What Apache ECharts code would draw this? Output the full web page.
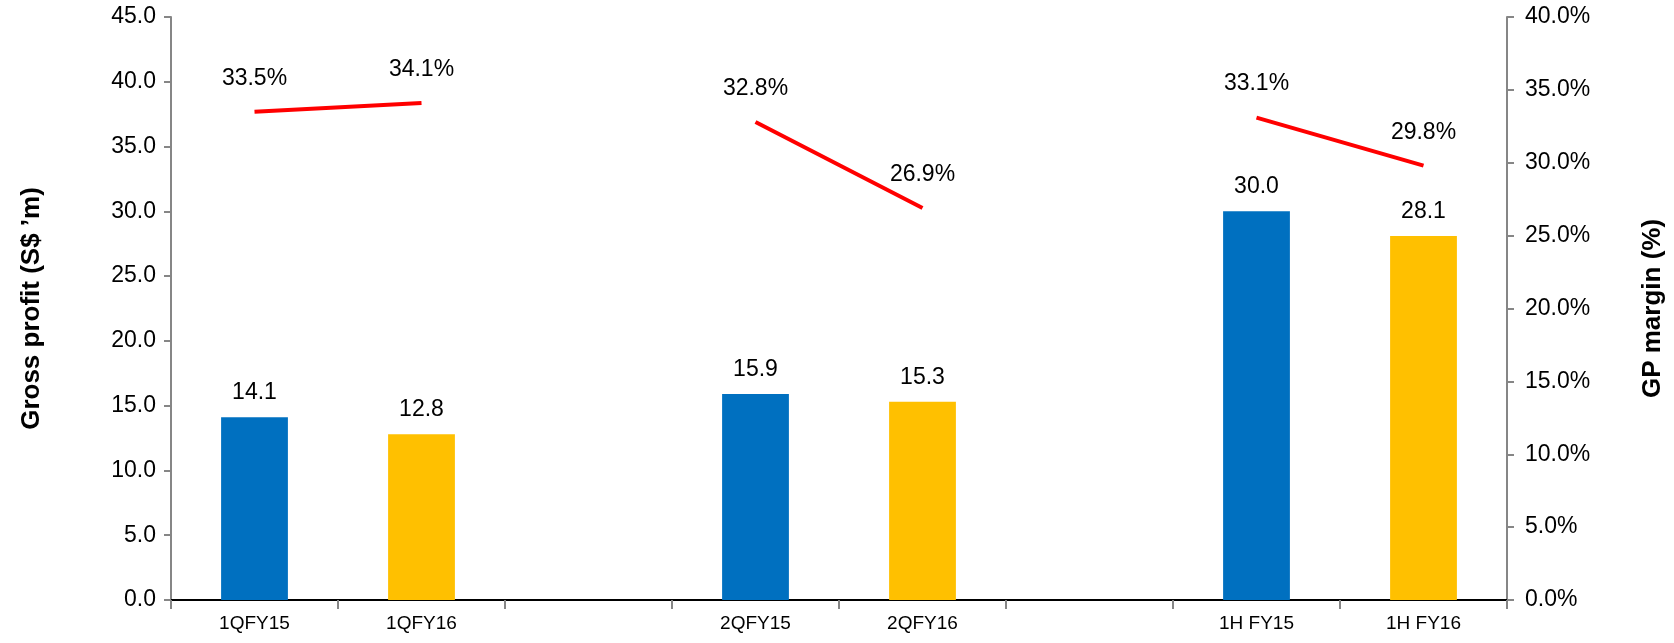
<!DOCTYPE html>
<html>
<head>
<meta charset="utf-8">
<script src="https://cdn.jsdelivr.net/npm/echarts@6/dist/echarts.min.js"></script>
<style>
  html, body { margin: 0; padding: 0; background: #fff; }
  #chart { width: 1674px; height: 643px; }
</style>
</head>
<body>
<div id="chart"></div>
<script>
// Periods (empty slots keep the groups apart)
const categories = ['1QFY15', '1QFY16', '', '2QFY15', '2QFY16', '', '1H FY15', '1H FY16'];
// Gross profit, S$ million
const grossProfit = [14.1, 12.8, null, 15.9, 15.3, null, 30.0, 28.1];
// Gross profit margin, %
const gpMargin = [33.5, 34.1, null, 32.8, 26.9, null, 33.1, 29.8];
// Axis tick settings
const leftAxisMax = 45, rightAxisMax = 40, tickStep = 5;

const FONT = "'Liberation Sans', Arial, sans-serif";
const AXIS_GREY = '#868686';
const COLOR_FY15 = '#0070C0';
const COLOR_FY16 = '#FFC000';

const chart = echarts.init(document.getElementById('chart'));
chart.setOption({
  animation: false,
  backgroundColor: '#ffffff',
  textStyle: { fontFamily: FONT },
  grid: { left: 171, right: 167, top: 17, bottom: 43 },
  xAxis: [
    {
      type: 'category',
      data: categories,
      axisLine: { lineStyle: { color: AXIS_GREY, width: 2 } },
      axisTick: { show: true, length: 9, lineStyle: { color: AXIS_GREY, width: 2 } },
      axisLabel: { color: '#000', fontSize: 19, fontFamily: FONT, margin: 14, interval: 0 }
    },
    {
      type: 'category',
      position: 'top',
      data: categories,
      axisLine: { lineStyle: { color: '#000', width: 2 } },
      axisTick: { show: false },
      axisLabel: { show: false }
    }
  ],
  yAxis: [
    {
      type: 'value',
      min: 0, max: leftAxisMax, interval: tickStep,
      name: "Gross profit (S$ ’m)",
      nameLocation: 'middle',
      nameGap: 126,
      nameTextStyle: { fontSize: 26, fontWeight: 'bold', color: '#000', fontFamily: FONT },
      axisLine: { show: true, lineStyle: { color: AXIS_GREY, width: 2 } },
      axisTick: { show: true, length: 7, lineStyle: { color: AXIS_GREY, width: 2 } },
      splitLine: { show: false },
      axisLabel: { color: '#000', fontSize: 23, margin: 15, formatter: v => v.toFixed(1) }
    },
    {
      type: 'value',
      min: 0, max: rightAxisMax, interval: tickStep,
      position: 'right',
      name: 'GP margin (%)',
      nameLocation: 'middle',
      nameGap: 133,
      nameRotate: 90,
      nameTextStyle: { fontSize: 26, fontWeight: 'bold', color: '#000', fontFamily: FONT },
      axisLine: { show: true, lineStyle: { color: AXIS_GREY, width: 2 } },
      axisTick: { show: true, length: 7, lineStyle: { color: AXIS_GREY, width: 2 } },
      splitLine: { show: false },
      axisLabel: { color: '#000', fontSize: 23, margin: 18, formatter: v => v.toFixed(1) + '%' }
    }
  ],
  series: [
    {
      type: 'bar',
      yAxisIndex: 0,
      barWidth: '40%',
      data: grossProfit.map((v, i) => ({
        value: v,
        itemStyle: { color: categories[i].endsWith('15') ? COLOR_FY15 : COLOR_FY16 }
      })),
      label: {
        show: true, position: 'top', distance: 13,
        color: '#000', fontSize: 23, fontFamily: FONT,
        formatter: p => p.value == null ? '' : p.value.toFixed(1)
      }
    },
    {
      type: 'line',
      yAxisIndex: 1,
      data: gpMargin,
      connectNulls: false,
      showSymbol: true,
      symbol: 'circle',
      symbolSize: 0,
      lineStyle: { color: '#FF0000', width: 4 },
      itemStyle: { color: '#FF0000' },
      label: {
        show: true, position: 'top', distance: 22,
        color: '#000', fontSize: 23, fontFamily: FONT,
        formatter: p => p.value == null ? '' : p.value.toFixed(1) + '%'
      }
    }
  ]
});
</script>
</body>
</html>
